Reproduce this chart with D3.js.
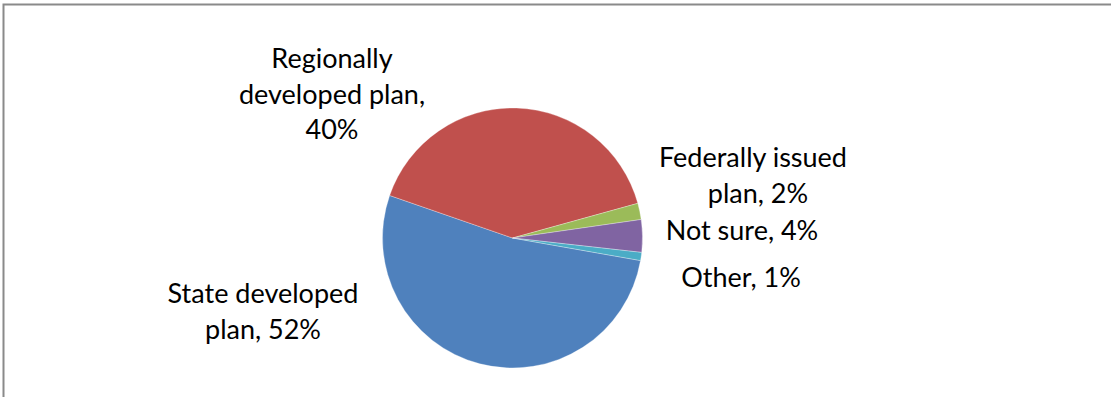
<!DOCTYPE html>
<html>
<head>
<meta charset="utf-8">
<script src="https://cdn.jsdelivr.net/npm/d3@7"></script>
<style>
  html, body { margin: 0; padding: 0; background: #fff; overflow: hidden; }
  svg { display: block; }
  text { font-family: Lato, "Open Sans", sans-serif; fill: #000; }
</style>
</head>
<body>
<svg id="chart" width="1111" height="397"></svg>
<script>
// Data
const categories = ["State developed plan", "Regionally developed plan", "Federally issued plan", "Not sure", "Other"];
const values = [52, 40, 2, 4, 1];
const colors = ["#4F81BD", "#C0504D", "#9BBB59", "#8064A2", "#4BACC6"];
// Label lines (as shown in the chart)
const labelLines = [
  ["State developed", "plan, 52%"],
  ["Regionally", "developed plan,", "40%"],
  ["Federally issued", "plan, 2%"],
  ["Not sure, 4%"],
  ["Other, 1%"]
];

// Layout
const W = 1111, H = 397;
const cx = 512.5, cy = 238, R = 130;
const startDeg = 100;
const labelPos = [
  {x: 263, y: 303, dx: [0, 0]},
  {x: 332, y: 68, dx: [0, 0, 0]},
  {x: 753, y: 167, dx: [0, 5]},
  {x: 742, y: 240, dx: [0]},
  {x: 741, y: 287, dx: [0]}
];
const lineGap = 35.5;
const fontSize = 27;

const svg = d3.select("#chart");

// Frame
svg.append("rect")
  .attr("x", 3.5).attr("y", 4.5)
  .attr("width", W + 20).attr("height", H + 20)
  .attr("fill", "none")
  .attr("stroke", "#8a8a8a")
  .attr("stroke-width", 2);

const pie = d3.pie()
  .sort(null)
  .value(d => d)
  .startAngle(startDeg * Math.PI / 180)
  .endAngle(startDeg * Math.PI / 180 + 2 * Math.PI);

const arc = d3.arc().innerRadius(0).outerRadius(R);

const g = svg.append("g").attr("transform", `translate(${cx},${cy})`);
g.selectAll("path")
  .data(pie(values))
  .join("path")
  .attr("d", arc)
  .attr("fill", (d, i) => colors[i])
  .attr("stroke", "#ffffff")
  .attr("stroke-opacity", 0.6)
  .attr("stroke-width", 0.5);

// Labels
labelLines.forEach((lines, i) => {
  const p = labelPos[i];
  const t = svg.append("text")
    .attr("text-anchor", "middle")
    .attr("font-size", fontSize);
  lines.forEach((ln, j) => {
    t.append("tspan")
      .attr("x", p.x + p.dx[j])
      .attr("y", p.y + j * lineGap)
      .text(ln);
  });
});
</script>
</body>
</html>
